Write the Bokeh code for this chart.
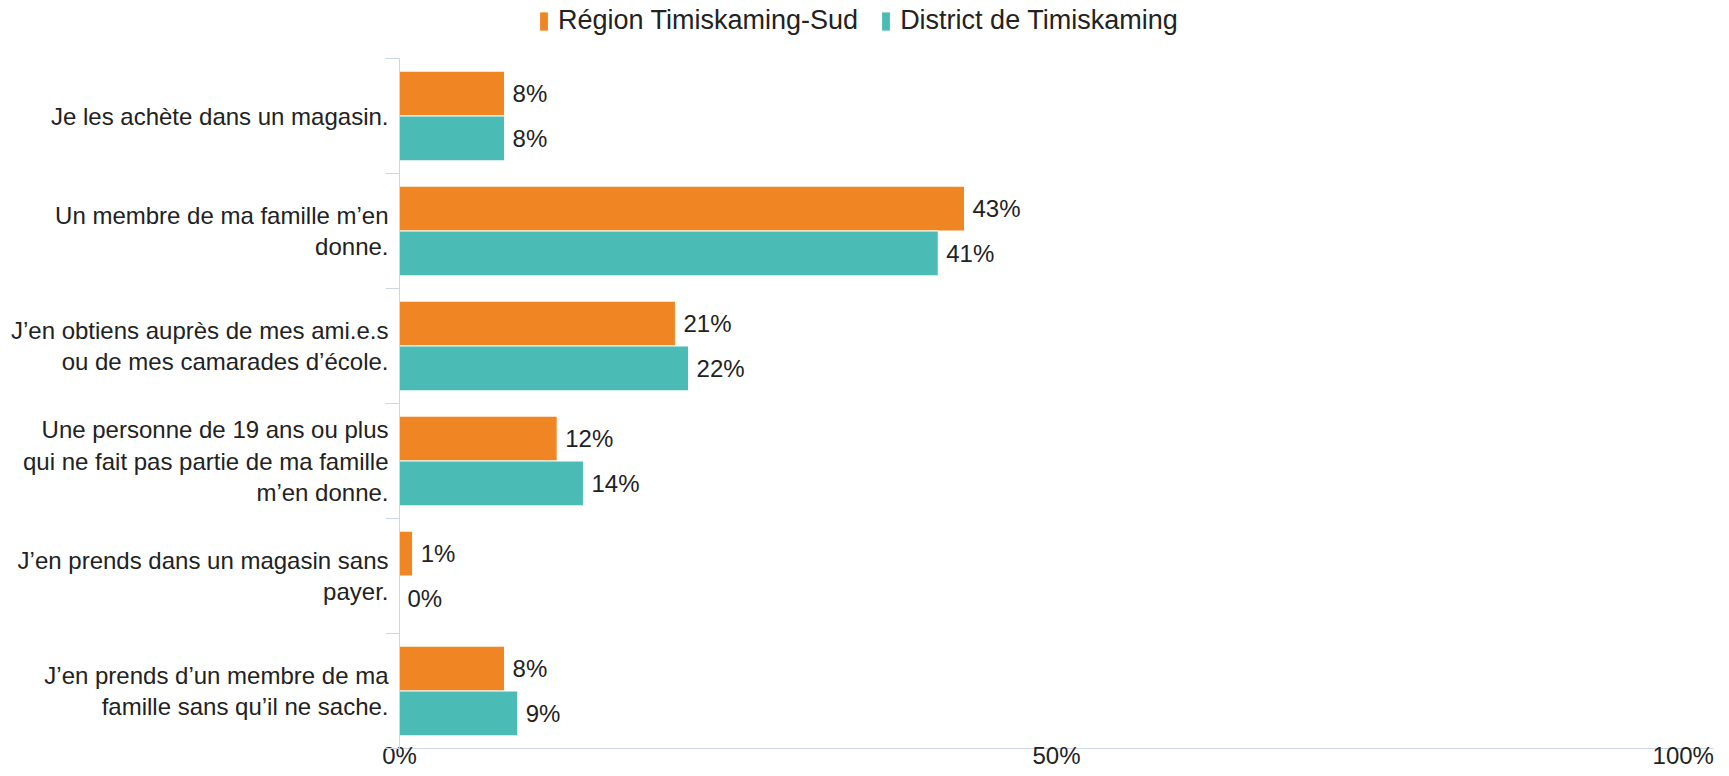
from bokeh.plotting import figure
from bokeh.models import ColumnDataSource, FixedTicker, Legend, LegendItem, Range1d
from bokeh.core.properties import value
from bokeh.embed import file_html
from bokeh.resources import INLINE

# ---------------- data ----------------
categories = [
    "Je les achète dans un magasin.",
    "Un membre de ma famille m’en\ndonne.",
    "J’en obtiens auprès de mes ami.e.s\nou de mes camarades d’école.",
    "Une personne de 19 ans ou plus\nqui ne fait pas partie de ma famille\nm’en donne.",
    "J’en prends dans un magasin sans\npayer.",
    "J’en prends d’un membre de ma\nfamille sans qu’il ne sache.",
]
series_names = ["Région Timiskaming-Sud", "District de Timiskaming"]
region_values = [8, 43, 21, 12, 1, 8]
district_values = [8, 41, 22, 14, 0, 9]
x_ticks = [0, 50, 100]
x_tick_labels = ["0%", "50%", "100%"]

# ---------------- style ----------------
FONT = "Liberation Sans"
ORANGE = "#EF8623"
TEAL = "#4BBBB5"
TEXT = "#222222"
AXIS = "#ccd6eb"

W, H = 1729, 776
LEFT, RIGHT, BOTTOM = 399, 16, 28
TOP_GAP = 58
FRAME_H = H - BOTTOM
LAST_LABEL_SHIFT = 2.3   # last x label is pulled inside the chart, as in the reference

n = len(categories)
ppu = (FRAME_H - TOP_GAP) / n
y_end = n + TOP_GAP / ppu
BAR_H = 0.39
OFF = BAR_H / 2

centers = [n - 1 - i + 0.5 for i in range(n)]
src = ColumnDataSource(dict(
    y_r=[c + OFF for c in centers],
    y_d=[c - OFF for c in centers],
    region=region_values,
    district=district_values,
    region_lbl=[f"{v}%" for v in region_values],
    district_lbl=[f"{v}%" for v in district_values],
))

p = figure(width=W, height=H, output_backend="svg", toolbar_location=None,
           x_range=Range1d(0, 100), y_range=Range1d(0, y_end),
           min_border_left=LEFT, min_border_right=RIGHT,
           min_border_top=0, min_border_bottom=BOTTOM)
p.outline_line_color = None
p.xgrid.visible = False
p.ygrid.visible = False

r1 = p.hbar(y="y_r", left=0, right="region", height=BAR_H, source=src,
            fill_color=ORANGE, line_color="white", line_width=1)
r2 = p.hbar(y="y_d", left=0, right="district", height=BAR_H, source=src,
            fill_color=TEAL, line_color="white", line_width=1)

for xcol, ycol, lcol in (("region", "y_r", "region_lbl"), ("district", "y_d", "district_lbl")):
    p.text(x=xcol, y=ycol, text=lcol, source=src, x_offset=8,
           text_align="left", text_baseline="middle",
           text_font=value(FONT), text_font_size="24px", text_color=TEXT)

# y axis (categories)
ya = p.yaxis[0]
ya.ticker = FixedTicker(ticks=centers, minor_ticks=list(range(0, n + 1)))
ya.major_label_overrides = {c: cat for c, cat in zip(centers, categories)}
ya.bounds = (0, n)
ya.axis_line_color = AXIS
ya.major_tick_out = 0
ya.major_tick_in = 0
ya.minor_tick_out = 14
ya.minor_tick_in = 0
ya.minor_tick_line_color = AXIS
ya.major_label_standoff = -3
ya.major_label_text_font = FONT
ya.major_label_text_font_size = "24px"
ya.major_label_text_color = TEXT
ya.major_label_text_line_height = 1.17

# x axis (percent)
xa = p.xaxis[0]
tick_pos = x_ticks[:-1] + [x_ticks[-1] - LAST_LABEL_SHIFT]
xa.ticker = FixedTicker(ticks=tick_pos, minor_ticks=[])
xa.major_label_overrides = {t: lbl for t, lbl in zip(tick_pos, x_tick_labels)}
xa.axis_line_color = AXIS
xa.major_tick_out = 0
xa.major_tick_in = 0
xa.minor_tick_out = 0
xa.minor_tick_in = 0
xa.major_label_standoff = -7
xa.major_label_text_font = FONT
xa.major_label_text_font_size = "24px"
xa.major_label_text_color = TEXT

legend = Legend(items=[LegendItem(label=series_names[0], renderers=[r1]),
                       LegendItem(label=series_names[1], renderers=[r2])],
                orientation="horizontal", location=(139, FRAME_H - 36),
                glyph_width=11, glyph_height=24, label_standoff=9, spacing=22,
                padding=0, margin=0, border_line_color=None, background_fill_alpha=0,
                label_text_font=FONT, label_text_font_size="27px", label_text_color=TEXT)
p.add_layout(legend)

open("out.html", "w").write(file_html(p, INLINE))
